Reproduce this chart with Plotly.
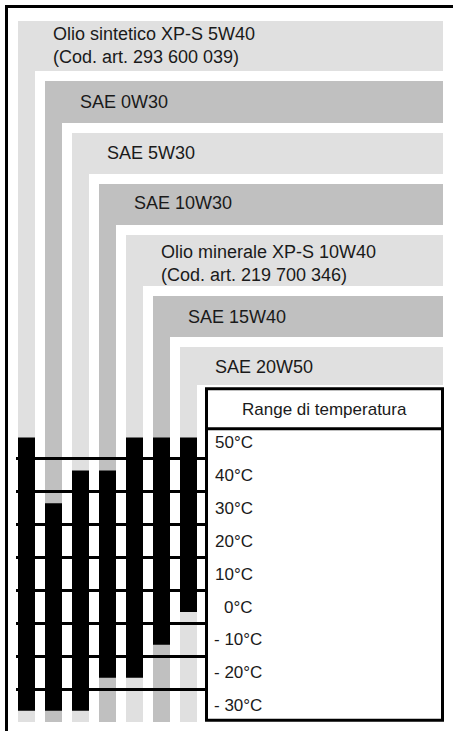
import plotly.graph_objects as go

# ---- data -------------------------------------------------------------
oil_names = [
    "Olio sintetico XP-S 5W40<br>(Cod. art. 293 600 039)",
    "SAE 0W30",
    "SAE 5W30",
    "SAE 10W30",
    "Olio minerale XP-S 10W40<br>(Cod. art. 219 700 346)",
    "SAE 15W40",
    "SAE 20W50",
]
temp_min = [-30, -30, -30, -20, -20, -10, 0]   # °C
temp_max = [50, 30, 40, 40, 50, 50, 50]        # °C

temp_values = [50, 40, 30, 20, 10, 0, -10, -20, -30]
temp_labels = ["50°C", "40°C", "30°C", "20°C", "10°C", "0°C",
               "- 10°C", "- 20°C", "- 30°C"]
table_title = "Range di temperatura"

# ---- styling / layout constants ----------------------------------------
W, H = 453, 731
LIGHT, DARK = "#e0e0e0", "#c0c0c0"
band_colors = [LIGHT, DARK, LIGHT, DARK, LIGHT, DARK, LIGHT]
band_top = [21, 81, 133, 184, 235, 296, 347]
band_bottom = [71, 123, 174, 225, 286, 337, 385]
text_center = [45.5, 102, 153, 203, 263, 317, 367]
stripe_left0, stripe_step, stripe_w = 18, 27, 17
band_right, stripe_end = 443, 722
bar_overhang = 1.5          # bars reach a little past the row centre
FONT = "Liberation Sans, Arial, sans-serif"
INK = "#1a1a1a"


def px(x):
    return x / W


def py(y):
    return 1 - y / H


shapes = []
annotations = []

# L-shaped grey bands: a horizontal label strip plus a vertical stripe
for i, (col, top, bot) in enumerate(zip(band_colors, band_top, band_bottom)):
    x0 = stripe_left0 + i * stripe_step
    x1 = x0 + stripe_w
    path = (f"M {px(x0)},{py(top)} L {px(band_right)},{py(top)} "
            f"L {px(band_right)},{py(bot)} L {px(x1)},{py(bot)} "
            f"L {px(x1)},{py(stripe_end)} L {px(x0)},{py(stripe_end)} Z")
    shapes.append(dict(type="path", xref="paper", yref="paper", path=path,
                       fillcolor=col, line=dict(width=0), layer="below"))
    annotations.append(dict(
        xref="paper", yref="paper", x=px(x0 + 33), y=py(text_center[i]),
        xanchor="left", yanchor="middle", showarrow=False, align="left",
        text=oil_names[i], font=dict(family=FONT, size=18, color=INK)))

# outer frame (top and left edges)
shapes.append(dict(type="path", xref="paper", yref="paper",
                   path=f"M {px(6.5)},{py(731)} L {px(6.5)},{py(6.5)} L {px(453)},{py(6.5)}",
                   line=dict(color="black", width=3), layer="above"))

# temperature table
tbl_x0, tbl_x1, tbl_y0, tbl_y1, tbl_head = 206.5, 442.5, 388.7, 720.3, 428.7
shapes.append(dict(type="rect", xref="paper", yref="paper",
                   x0=px(tbl_x0), x1=px(tbl_x1), y0=py(tbl_y1), y1=py(tbl_y0),
                   fillcolor="white", line=dict(color="black", width=3),
                   layer="above"))
shapes.append(dict(type="line", xref="paper", yref="paper",
                   x0=px(tbl_x0), x1=px(tbl_x1), y0=py(tbl_head), y1=py(tbl_head),
                   line=dict(color="black", width=3), layer="above"))
annotations.append(dict(
    xref="paper", yref="paper", x=px((tbl_x0 + tbl_x1) / 2), y=py(409),
    xanchor="center", yanchor="middle", showarrow=False, text=table_title,
    font=dict(family=FONT, size=17, color=INK)))

for t, lab in zip(temp_values, temp_labels):
    neg = t < 0
    annotations.append(dict(
        xref="paper", yref="y", x=px(212 if neg else 255), y=t,
        xanchor="left" if neg else "right", yanchor="middle",
        showarrow=False, text=lab,
        font=dict(family=FONT, size=17, color=INK)))

# row separators sit halfway between the listed temperatures
row_edges = [(a + b) / 2 for a, b in zip(temp_values, temp_values[1:])]

fig = go.Figure(go.Bar(
    x=list(range(len(oil_names))),
    base=[lo - bar_overhang for lo in temp_min],
    y=[hi - lo + 2 * bar_overhang for lo, hi in zip(temp_min, temp_max)],
    width=stripe_w / stripe_step,
    marker=dict(color="black", line=dict(width=0)),
    hoverinfo="skip",
))

# temperature axis: 50 °C row centre at 442.5 px, 3.291 px per degree
y_lo, y_hi = -35, 55
y_px = lambda t: 442.45 + (50 - t) * 3.291
x_px = lambda i: stripe_left0 + stripe_w / 2 + i * stripe_step
grid_x0, grid_x1 = 16, 205

fig.update_layout(
    width=W, height=H, autosize=False,
    margin=dict(l=0, r=0, t=0, b=0),
    paper_bgcolor="white", plot_bgcolor="rgba(0,0,0,0)",
    showlegend=False,
    shapes=shapes, annotations=annotations,
    xaxis=dict(domain=[px(grid_x0), px(grid_x1)],
               range=[(grid_x0 - x_px(0)) / stripe_step,
                      (grid_x1 - x_px(0)) / stripe_step],
               visible=False, fixedrange=True),
    yaxis=dict(domain=[py(y_px(y_lo)), py(y_px(y_hi))],
               range=[y_lo, y_hi],
               tickvals=row_edges, showticklabels=False, ticks="",
               showgrid=True, gridcolor="black", gridwidth=2.5,
               zeroline=False, showline=False, fixedrange=True),
)

fig.write_html("out.html", config={"displayModeBar": False})
